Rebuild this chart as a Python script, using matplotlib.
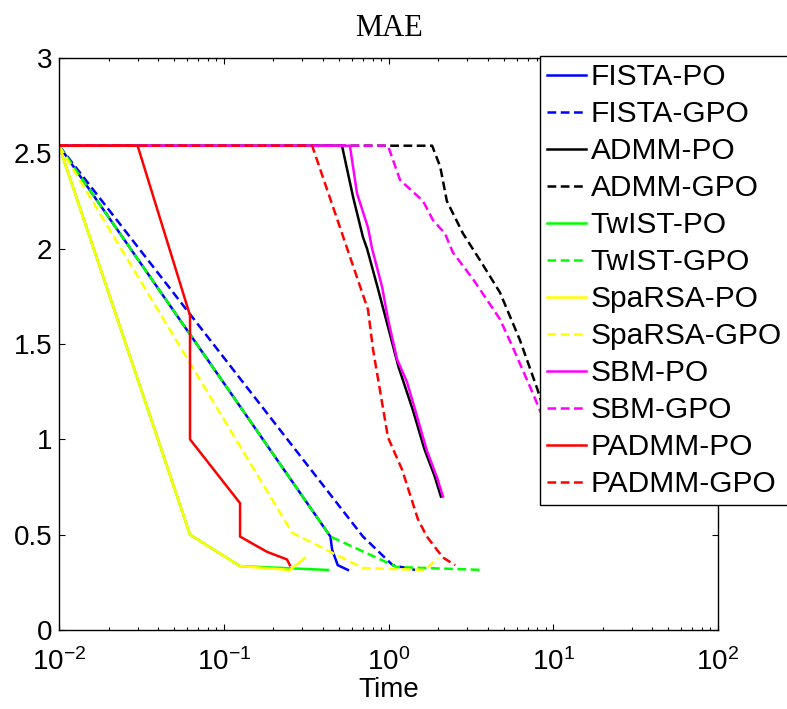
import numpy as np
import matplotlib
matplotlib.use('Agg')
import matplotlib.pyplot as plt

plt.rcParams['font.family'] = ['Liberation Sans', 'DejaVu Sans']

# data (time in s, MAE)
fista_po_t = [0.01, 0.444, 0.455, 0.492, 0.567]
fista_po_mae = [2.54, 0.49, 0.42, 0.34, 0.315]
fista_gpo_t = [0.01, 0.70, 1.06, 1.45]
fista_gpo_mae = [2.54, 0.49, 0.34, 0.315]
admm_po_t = [0.01, 0.522, 0.61, 0.70, 0.741, 0.863, 1.0, 1.15, 1.41, 1.65, 1.9, 2.08]
admm_po_mae = [2.54, 2.54, 2.27, 2.06, 2.0, 1.79, 1.58, 1.38, 1.15, 0.95, 0.81, 0.70]
admm_gpo_t = [0.01, 1.84, 2.06, 2.26, 2.83, 3.59, 4.75, 6.28, 7.96, 8.6]
admm_gpo_mae = [2.54, 2.54, 2.43, 2.25, 2.08, 1.94, 1.77, 1.52, 1.27, 1.18]
twist_po_t = [0.01, 0.0624, 0.1256, 0.43]
twist_po_mae = [2.54, 0.50, 0.335, 0.315]
twist_gpo_t = [0.01, 0.444, 1.127, 3.75]
twist_gpo_mae = [2.54, 0.49, 0.33, 0.315]
sparsa_po_t = [0.01, 0.0624, 0.1256, 0.252, 0.311]
sparsa_po_mae = [2.54, 0.50, 0.335, 0.315, 0.378]
sparsa_gpo_t = [0.01, 0.26, 0.70, 1.66, 2.0]
sparsa_gpo_mae = [2.54, 0.51, 0.325, 0.315, 0.378]
sbm_po_t = [0.01, 0.583, 0.644, 0.751, 0.795, 0.914, 0.993, 1.127, 1.295, 1.49, 1.71, 1.97, 2.14]
sbm_po_mae = [2.54, 2.54, 2.29, 2.11, 2.0, 1.80, 1.63, 1.42, 1.30, 1.12, 0.94, 0.80, 0.70]
sbm_gpo_t = [0.01, 0.993, 1.175, 1.62, 1.86, 2.2, 2.46, 3.26, 4.75, 5.7, 7.53, 8.6]
sbm_gpo_mae = [2.54, 2.54, 2.36, 2.25, 2.15, 2.08, 1.98, 1.84, 1.63, 1.48, 1.24, 1.12]
padmm_po_t = [0.01, 0.030, 0.0624, 0.0624, 0.1256, 0.1256, 0.183, 0.242, 0.252]
padmm_po_mae = [2.54, 2.54, 1.65, 1.0, 0.665, 0.49, 0.41, 0.37, 0.34]
padmm_gpo_t = [0.01, 0.344, 0.751, 0.806, 0.993, 1.21, 1.51, 1.71, 2.14, 2.54]
padmm_gpo_mae = [2.54, 2.54, 1.68, 1.47, 1.01, 0.84, 0.58, 0.49, 0.38, 0.34]

series = [
    ('FISTA-PO', fista_po_t, fista_po_mae, 'b', '-'),
    ('FISTA-GPO', fista_gpo_t, fista_gpo_mae, 'b', '--'),
    ('ADMM-PO', admm_po_t, admm_po_mae, 'k', '-'),
    ('ADMM-GPO', admm_gpo_t, admm_gpo_mae, 'k', '--'),
    ('TwIST-PO', twist_po_t, twist_po_mae, '#00ff00', '-'),
    ('TwIST-GPO', twist_gpo_t, twist_gpo_mae, '#00ff00', '--'),
    ('SpaRSA-PO', sparsa_po_t, sparsa_po_mae, '#ffff00', '-'),
    ('SpaRSA-GPO', sparsa_gpo_t, sparsa_gpo_mae, '#ffff00', '--'),
    ('SBM-PO', sbm_po_t, sbm_po_mae, '#ff00ff', '-'),
    ('SBM-GPO', sbm_gpo_t, sbm_gpo_mae, '#ff00ff', '--'),
    ('PADMM-PO', padmm_po_t, padmm_po_mae, 'r', '-'),
    ('PADMM-GPO', padmm_gpo_t, padmm_gpo_mae, 'r', '--'),
]

fig = plt.figure(figsize=(7.87, 7.09), dpi=100)
ax = fig.add_axes([59/787, 1-630/709, (718-59)/787, (630-58)/709])

for name, t, mae, col, ls in series:
    line, = ax.plot(t, mae, color=col, ls=ls, lw=1.8, label=name)
    if ls == '--':
        line.set_dashes((3.5, 1.8))

ax.set_xscale('log')
ax.set_xlim(1e-2, 1e2)
ax.set_ylim(0, 3)
ax.set_yticks(np.arange(0, 3.01, 0.5))
ax.set_yticklabels(['0', '0.5', '1', '1.5', '2', '2.5', '3'])
ax.tick_params(which='both', direction='in', top=True, right=True, labelsize=20, width=0.8)
ax.tick_params(which='major', length=4)
ax.tick_params(which='minor', length=2.5)
ax.tick_params(axis='y', pad=5)
ax.tick_params(axis='x', pad=13)
for s in ax.spines.values():
    s.set_linewidth(1.0)

ax.set_title('MAE', family='Liberation Serif', fontsize=22, pad=16)
ax.set_xlabel('Time', fontsize=20, labelpad=1)

leg = ax.legend(loc='upper left', bbox_to_anchor=(540/787, 1-56/709),
                bbox_transform=fig.transFigure, fontsize=21.5, frameon=True,
                fancybox=False, framealpha=1, edgecolor='k', borderaxespad=0,
                handlelength=1.3, handletextpad=0.15, labelspacing=0.3,
                borderpad=0.25)
leg.get_frame().set_linewidth(1.0)

fig.savefig('out.png', dpi=100)
